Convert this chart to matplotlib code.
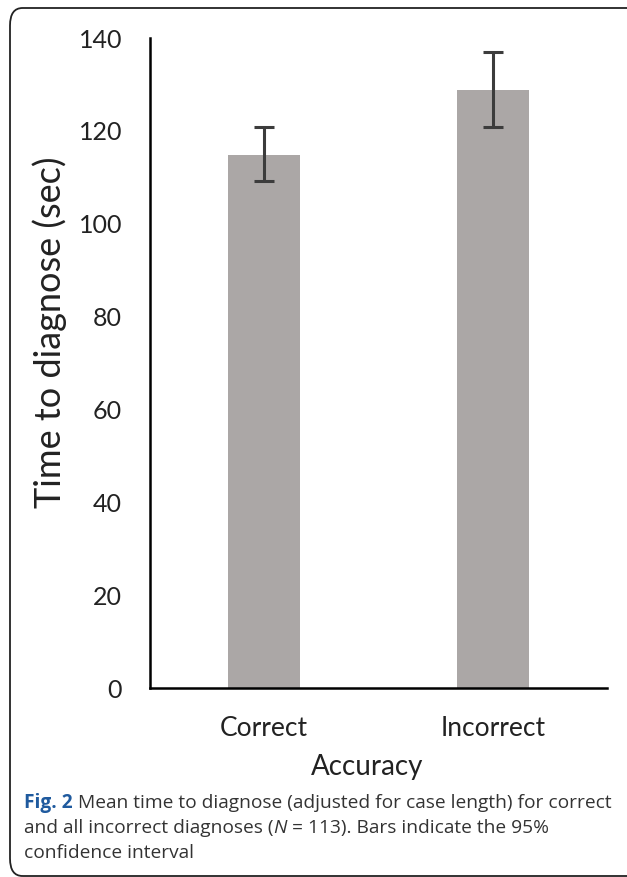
import matplotlib
matplotlib.use("Agg")
import matplotlib.pyplot as plt
from matplotlib.patches import FancyBboxPatch
import numpy as np

# valores
categorias = ["Correct", "Incorrect"]
medias = [114.8, 128.9]
ic_inferior = [109.1, 120.9]
ic_superior = [120.9, 136.9]
yticks = [0, 20, 40, 60, 80, 100, 120, 140]

W, H = 627, 877
fig = plt.figure(figsize=(W / 100, H / 100), dpi=100)
fonte = "Lato"
fonte_leg = "Open Sans"
cor_txt = "#222222"

# eixo principal
ax = fig.add_axes([150 / W, 1 - 688 / H, (607 - 150) / W, (688 - 38) / H])
x = np.arange(len(categorias))
erro = [np.array(medias) - np.array(ic_inferior), np.array(ic_superior) - np.array(medias)]
ax.bar(x, medias, width=0.317, color="#aba7a6", zorder=2)
ax.errorbar(x, medias, yerr=erro, fmt="none", ecolor="#3c3c3c",
            elinewidth=2.2, capsize=7.5, capthick=2.2, zorder=3)

ax.set_xlim(-0.5, 1.5)
ax.set_ylim(0, 140)
ax.set_yticks(yticks)
ax.set_yticklabels([str(v) for v in yticks], fontsize=18, family=fonte, color=cor_txt)
ax.set_xticks(x)
ax.set_xticklabels(categorias, fontsize=19, family=fonte, color=cor_txt)
ax.tick_params(axis="y", length=0, pad=20)
ax.tick_params(axis="x", length=0, pad=20)
for lado in ["top", "right"]:
    ax.spines[lado].set_visible(False)
for lado in ["left", "bottom"]:
    ax.spines[lado].set_linewidth(1.8)
    ax.spines[lado].set_color("black")

# titulos dos eixos
fig.text(50 / W, 1 - 332 / H, "Time to diagnose (sec)", fontsize=26, family=fonte,
         color=cor_txt, rotation=90, ha="center", va="center")
fig.text(367 / W, 1 - 767 / H, "Accuracy", fontsize=20, family=fonte,
         color=cor_txt, ha="center", va="center")

# moldura arredondada
moldura = FancyBboxPatch((10 / W, 1 - 876 / H), (640 - 10) / W, (876 - 8) / H,
                         boxstyle="round,pad=0,rounding_size=0.02",
                         transform=fig.transFigure, fill=False,
                         edgecolor="#222222", linewidth=1.3, clip_on=False)
fig.patches.append(moldura)

# legenda da figura, escrita por partes
renderer = fig.canvas.get_renderer()


def escrever_linha(partes, x0, y0):
    xpos = x0
    for texto, estilo in partes:
        t = fig.text(xpos / W, 1 - y0 / H, texto, fontsize=13.8, family=fonte_leg,
                     va="center", ha="left", **estilo)
        bb = t.get_window_extent(renderer=renderer)
        xpos += bb.width


normal = {"color": "#333333"}
escrever_linha([("Fig. 2", {"color": "#1f5a9e", "weight": "bold"}),
                (" Mean time to diagnose (adjusted for case length) for correct", normal)], 24, 803)
escrever_linha([("and all incorrect diagnoses (", normal),
                ("N", {"color": "#333333", "style": "italic"}),
                (" = 113). Bars indicate the 95%", normal)], 24, 828)
escrever_linha([("confidence interval", normal)], 24, 853)

fig.savefig("out.png", dpi=100)
